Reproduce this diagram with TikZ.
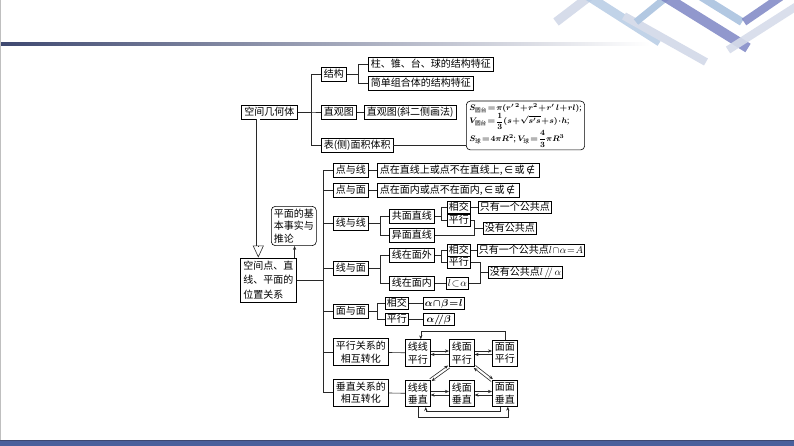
\documentclass[tikz,border=0pt]{standalone}
\usepackage{amsmath}
\usepackage{amssymb}
\usepackage{fontspec}
\setmainfont{Noto Sans CJK SC}
\newfontfamily\simbolo{DejaVu Sans}
\usepackage{tikz}
\usetikzlibrary{arrows.meta,calc,positioning}
\medmuskip=1mu
\thickmuskip=1.5mu
\definecolor{grisOscuro}{RGB}{40, 40, 40}
\definecolor{azul}{RGB}{74, 96, 156}
\definecolor{azulOscuro}{RGB}{62, 72, 112}
\definecolor{lila}{RGB}{126, 134, 196}
\definecolor{celeste}{RGB}{178, 200, 226}
\definecolor{grisClaro}{RGB}{214, 220, 234}
\tikzstyle{box}  =[draw, anchor=west, line width=0.6pt,
                   inner xsep=2.5pt, inner ysep=2pt,
                   text height=8.4pt, text depth=1.6pt,
                   font=\fontsize{10}{13}\selectfont]
\tikzstyle{sbox} =[box, inner xsep=1.5pt, inner ysep=1pt]
\tikzstyle{mbox} =[draw, anchor=west, line width=0.6pt,
                   align=left, inner sep=2.5pt]
\tikzstyle{rbox} =[mbox, rounded corners=4pt]
\tikzstyle{tbox} =[mbox, align=center, font=\fontsize{10}{12.5}\selectfont]
\tikzstyle{edge} =[line width=0.6pt, grisOscuro]
\tikzstyle{arr}  =[edge, -{Stealth[length=4pt,width=3.2pt]}]

\begin{document}
\begin{tikzpicture}[x=1pt,y=-1pt]
    \useasboundingbox (0,0) rectangle (794,446);

        % cabecera
        \begin{scope}[line cap=butt]
            \shade [left color=azulOscuro, right color=white] (0,43) rectangle (650,45.5);
            \draw [line width=9pt, grisClaro] (556,22) -- (590,-4);
            \draw [line width=9pt, celeste, opacity=.8] (588,-4) -- (660,42);
            \draw [line width=8pt, grisClaro] (624,16) -- (706,62);
            \draw [line width=7pt, celeste] (636,22) -- (668,-4);
            \draw [line width=10pt, lila, opacity=.85] (664,-4) -- (748,48);
            \draw [line width=8pt, celeste] (700,-4) -- (742,22);
            \draw [line width=8pt, lila, opacity=.85] (744,22) -- (782,-4);
            \draw [line width=8pt, grisClaro, opacity=.9] (728,50) -- (800,4);
            \draw [gray!50, line width=0.8pt] (0.4,0) -- (0.4,440);
            \fill [azul] (0,440) rectangle (794,446);
            \draw [azulOscuro, line width=0.6pt] (0,440) -- (794,440);
        \end{scope}

        \coordinate (t1) at (311,0);
        \coordinate (t2) at (358,0);
        \coordinate (t4) at (323,0);
        \coordinate (t5) at (380,0);
        \coordinate (t6) at (441,0);
        \coordinate (t7) at (474,0);
        \coordinate (t8) at (480,0);
        \coordinate (t9) at (377,0);

        % espacio
        \draw (241,112) node (gt) [box, inner xsep=3pt] {空间几何体};
        \draw (321,74.5) node (jg) [box] {结构};
        \draw (321,112) node (zg) [box] {直观图};
        \draw (321,145) node (bm) [box] {表(侧)面积体积};
        \draw (368,64) node (c1) [box] {柱、锥、台、球的结构特征};
        \draw (368,83.5) node (c2) [box] {简单组合体的结构特征};
        \draw (364,112) node (zx) [box] {直观图(斜二侧画法)};
        \draw (466,125.5) node (fm) [rbox, inner xsep=3pt, font=\fontsize{8.1}{13.5}\selectfont\boldmath]
            {$S_{\text{圆台}}=\pi(r'^{\,2}+r^2+r'\,l+rl)$;\\
             $V_{\text{圆台}}=\dfrac{1}{3}(s+\sqrt{s's}+s)\cdot h$;\\
             $S_{\text{球}}=4\pi R^2$; $V_{\text{球}}=\dfrac{4}{3}\pi R^3$};

        % posiciones
        \draw (240,280) node (wz) [mbox, inner sep=3pt, font=\fontsize{10}{14.5}\selectfont]
            {空间点、直\\线、平面的\\位置关系};
        \draw (271,226) node (tl) [rbox, font=\fontsize{10}{12.5}\selectfont]
            {平面的基\\本事实与\\推论};
        \draw (333,170) node (dx) [box] {点与线};
        \draw (333,190) node (dm) [box] {点与面};
        \draw (333,223) node (xx) [box] {线与线};
        \draw (333,268) node (xm) [box] {线与面};
        \draw (333,311) node (mm) [box] {面与面};
        \draw (333,352) node (px) [tbox] {平行关系的\\相互转化};
        \draw (333,392.5) node (cz) [tbox] {垂直关系的\\相互转化};

        \draw (377,170) node (d1) [box] {点在直线上或点不在直线上,\,{\simbolo ∈}\,或\,{\simbolo ∉}\,};
        \draw (377,190) node (d2) [box] {点在面内或点不在面内,\,{\simbolo ∈}\,或\,{\simbolo ∉}\,};

        \draw (389,216) node (gm) [box] {共面直线};
        \draw (389,235) node (ym) [box] {异面直线};
        \draw (447,207) node (xj1) [sbox] {相交};
        \draw (447,220) node (px1) [sbox] {平行};
        \draw (478,207) node (g1) [sbox] {只有一个公共点};
        \draw (483,228) node (mg) [sbox] {没有公共点};

        \draw (389,255) node (wm) [box] {线在面外};
        \draw (389,283) node (wn) [box] {线在面内};
        \draw (447,250) node (xj2) [sbox] {相交};
        \draw (447,262) node (px2) [sbox] {平行};
        \draw (477,250) node (g2) [sbox] {只有一个公共点$l\cap\alpha=A$};
        \draw (488,272) node (mg2) [sbox] {没有公共点$l\,/\!/\,\alpha$};
        \draw (446,283) node (lz) [sbox] {$l\subset\alpha$};

        \draw (385,303) node (xj3) [sbox] {相交};
        \draw (385,319) node (px3) [sbox] {平行};
        \draw (423,303) node (ab1) [sbox, font=\fontsize{10}{13}\selectfont\boldmath] {$\alpha\cap\beta=l$};
        \draw (423,319) node (ab2) [sbox, font=\fontsize{10}{13}\selectfont\boldmath] {$\,\alpha/\!/\beta\,$};

        \draw (405,353) node (xxp) [tbox] {线线\\平行};
        \draw (449,353) node (xmp) [tbox] {线面\\平行};
        \draw (492,353) node (mmp) [tbox] {面面\\平行};
        \draw (405,393.5) node (xxc) [tbox] {线线\\垂直};
        \draw (449,393.5) node (xmc) [tbox] {线面\\垂直};
        \draw (492,393.5) node (mmc) [tbox] {面面\\垂直};

        % ramas
        \foreach \i/\t/\j in {gt/t1/jg,gt/t1/zg,gt/t1/bm,jg/t2/c1,jg/t2/c2,
                              wz/t4/dx,wz/t4/dm,wz/t4/xx,wz/t4/xm,wz/t4/mm,wz/t4/px,wz/t4/cz,
                              xx/t5/gm,xx/t5/ym,gm/t6/xj1,gm/t6/px1,px1/t7/mg,ym/t7/mg,
                              xm/t5/wm,xm/t5/wn,wm/t6/xj2,wm/t6/px2,px2/t8/mg2,lz/t8/mg2,
                              mm/t9/xj3,mm/t9/px3}
            \draw [edge] (\i.east) -| (\t |- \j.west) -- (\j.west);

        \foreach \i/\j in {zg/zx,dx/d1,dm/d2,xj1/g1,xj2/g2,wn/lz,
                           xj3/ab1,px3/ab2,px/xxp,cz/xxc}
            \draw [edge] (\i) -- (\j);
        \draw [edge] (bm.east) -- (bm.east -| fm.west);

        % flecha doble
        \coordinate (dt) at ([xshift=-11pt]gt.south |- wz.north);
        \draw [edge, double distance=3pt, shorten >=12pt] ([xshift=-11pt]gt.south) -- (dt);
        \draw [edge, -{Triangle[open,length=12pt,width=11pt]}] ([yshift=12pt]dt) -- (dt);
        \draw [arr] ([xshift=-2pt]wz.north east) -- ([xshift=-2pt]wz.north east |- tl.south);

        % transformaciones
        \foreach \a/\b in {xxp/xmp,xmp/mmp,xxc/xmc,xmc/mmc} {
            \draw [arr] ([yshift=2pt]\a.east) -- ([yshift=2pt]\b.west);
            \draw [arr] ([yshift=-1.5pt]\b.west) -- ([yshift=-1.5pt]\a.east);
        }
        \draw [arr] ([xshift=0.9pt,yshift=-1.2pt]xmp.south west) -- ([xshift=0.9pt,yshift=-1.2pt]xxc.north east);
        \draw [arr] ([xshift=-0.9pt,yshift=1.2pt]xxc.north east) -- ([xshift=-0.9pt,yshift=1.2pt]xmp.south west);
        \draw [arr] ([xshift=0.9pt,yshift=1.2pt]xmp.south east) -- ([xshift=0.9pt,yshift=1.2pt]mmc.north west);
        \draw [arr] ([xshift=-0.9pt,yshift=-1.2pt]mmc.north west) -- ([xshift=-0.9pt,yshift=-1.2pt]xmp.south east);
        \draw [arr] (mmp.north) -- ++(0,-8) -| ([xshift=3pt]xxp.north);
        \draw [arr] (xxc.south) -- ++(0,10) -| ([xshift=3pt]mmc.south);
        \draw [arr] ([xshift=-5pt]mmc.south) -- ++(0,5) -| ([xshift=8pt]xxc.south);

    \end{tikzpicture}
\end{document}
